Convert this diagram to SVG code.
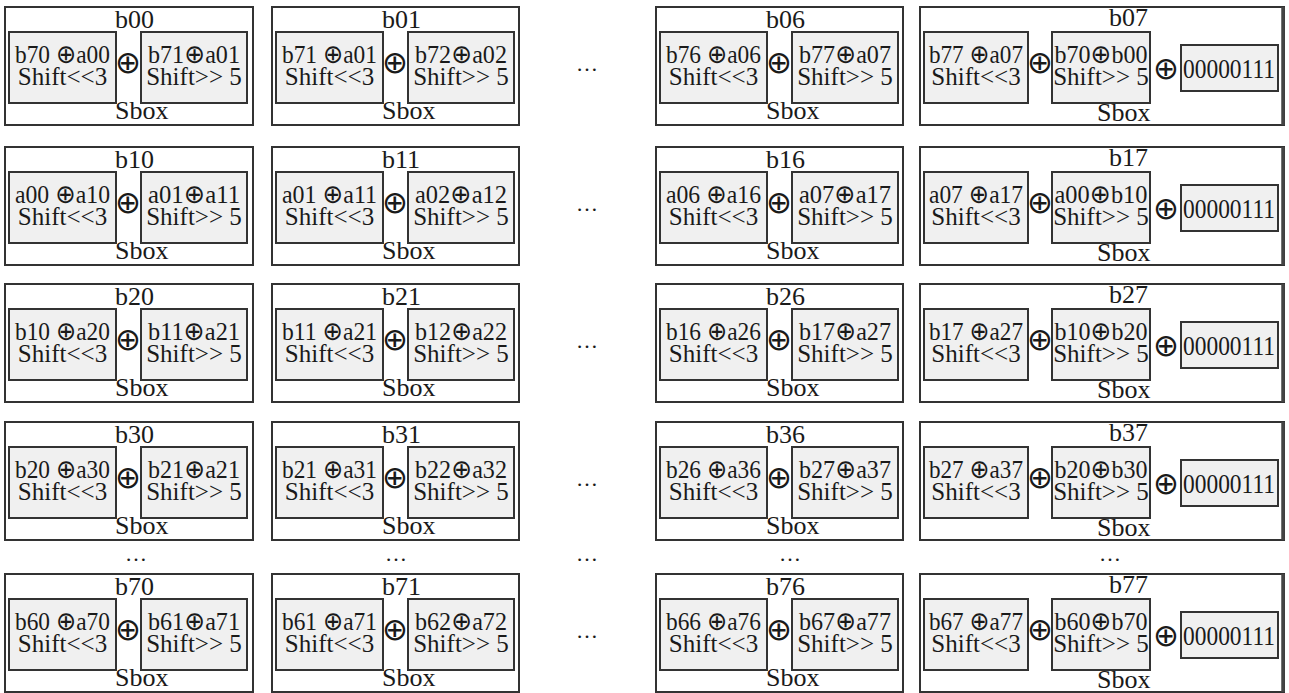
<svg xmlns="http://www.w3.org/2000/svg" width="1289" height="693" viewBox="0 0 1289 693">
<style>
.o{fill:#fff;stroke:#333;stroke-width:2}
.i{fill:#f0f0f0;stroke:#333;stroke-width:2}
.e{fill:none;stroke:#444;stroke-width:3.5}
.t{font-family:"Liberation Serif","Times New Roman",serif;font-size:25px;fill:#1a1a1a}
.h{font-size:26px}
.n{font-size:27px}
.c{text-anchor:middle}
.x{font-family:"DejaVu Sans",sans-serif;font-size:26px}
.p{font-family:"DejaVu Sans",sans-serif;font-size:31px;fill:#1a1a1a;text-anchor:middle}
.d{font-family:"Liberation Serif","Times New Roman",serif;font-size:22px;fill:#1a1a1a;text-anchor:middle}
</style>
<rect width="1289" height="693" fill="#fff"/>

<!-- Row 0 -->
<g id="b00" transform="translate(5,7)">
<rect class="o" width="248" height="118"/>
<text class="t h" x="110" y="21">b00</text>
<rect class="i" x="4" y="25" width="107" height="71"/>
<rect class="i" x="136" y="25" width="106" height="71"/>
<text class="t c" x="57.5" y="56" textLength="95" lengthAdjust="spacingAndGlyphs">b70 <tspan class="x">⊕</tspan>a00</text>
<text class="t c" x="57.5" y="78">Shift&lt;&lt;3</text>
<text class="p" x="123" y="66">⊕</text>
<text class="t c" x="189" y="56" textLength="92" lengthAdjust="spacingAndGlyphs">b71<tspan class="x">⊕</tspan>a01</text>
<text class="t c" x="189" y="78">Shift&gt;&gt; 5</text>
<text class="t h" x="110" y="112">Sbox</text>
</g>
<g id="b01" transform="translate(272,7)">
<rect class="o" width="247" height="118"/>
<text class="t h" x="110" y="21">b01</text>
<rect class="i" x="4" y="25" width="107" height="71"/>
<rect class="i" x="136" y="25" width="106" height="71"/>
<text class="t c" x="57.5" y="56" textLength="95" lengthAdjust="spacingAndGlyphs">b71 <tspan class="x">⊕</tspan>a01</text>
<text class="t c" x="57.5" y="78">Shift&lt;&lt;3</text>
<text class="p" x="123" y="66">⊕</text>
<text class="t c" x="189" y="56" textLength="92" lengthAdjust="spacingAndGlyphs">b72<tspan class="x">⊕</tspan>a02</text>
<text class="t c" x="189" y="78">Shift&gt;&gt; 5</text>
<text class="t h" x="110" y="112">Sbox</text>
</g>
<g id="b06" transform="translate(656,7)">
<rect class="o" width="247" height="118"/>
<text class="t h" x="110" y="21">b06</text>
<rect class="i" x="4" y="25" width="107" height="71"/>
<rect class="i" x="136" y="25" width="106" height="71"/>
<text class="t c" x="57.5" y="56" textLength="95" lengthAdjust="spacingAndGlyphs">b76 <tspan class="x">⊕</tspan>a06</text>
<text class="t c" x="57.5" y="78">Shift&lt;&lt;3</text>
<text class="p" x="123" y="66">⊕</text>
<text class="t c" x="189" y="56" textLength="92" lengthAdjust="spacingAndGlyphs">b77<tspan class="x">⊕</tspan>a07</text>
<text class="t c" x="189" y="78">Shift&gt;&gt; 5</text>
<text class="t h" x="110" y="112">Sbox</text>
</g>
<g id="b07" transform="translate(920,7)">
<rect class="o" width="364" height="118"/>
<path class="e" d="M363,0V118"/>
<text class="t h" x="189" y="19">b07</text>
<rect class="i" x="4" y="25" width="104" height="71"/>
<rect class="i" x="132" y="25" width="98" height="71"/>
<rect class="i" x="261" y="38" width="97" height="46"/>
<text class="t c" x="56" y="56" textLength="94" lengthAdjust="spacingAndGlyphs">b77 <tspan class="x">⊕</tspan>a07</text>
<text class="t c" x="56" y="78">Shift&lt;&lt;3</text>
<text class="p" x="120" y="66">⊕</text>
<text class="t c" x="181" y="56" textLength="93" lengthAdjust="spacingAndGlyphs">b70<tspan class="x">⊕</tspan>b00</text>
<text class="t c" x="181" y="78">Shift&gt;&gt; 5</text>
<text class="p" x="246" y="72">⊕</text>
<text class="t n" x="263" y="71" textLength="92" lengthAdjust="spacingAndGlyphs">00000111</text>
<text class="t h" x="177" y="114">Sbox</text>
</g>

<!-- Row 1 -->
<g id="b10" transform="translate(5,147)">
<rect class="o" width="248" height="118"/>
<text class="t h" x="110" y="21">b10</text>
<rect class="i" x="4" y="25" width="107" height="71"/>
<rect class="i" x="136" y="25" width="106" height="71"/>
<text class="t c" x="57.5" y="56" textLength="95" lengthAdjust="spacingAndGlyphs">a00 <tspan class="x">⊕</tspan>a10</text>
<text class="t c" x="57.5" y="78">Shift&lt;&lt;3</text>
<text class="p" x="123" y="66">⊕</text>
<text class="t c" x="189" y="56" textLength="92" lengthAdjust="spacingAndGlyphs">a01<tspan class="x">⊕</tspan>a11</text>
<text class="t c" x="189" y="78">Shift&gt;&gt; 5</text>
<text class="t h" x="110" y="112">Sbox</text>
</g>
<g id="b11" transform="translate(272,147)">
<rect class="o" width="247" height="118"/>
<text class="t h" x="110" y="21">b11</text>
<rect class="i" x="4" y="25" width="107" height="71"/>
<rect class="i" x="136" y="25" width="106" height="71"/>
<text class="t c" x="57.5" y="56" textLength="95" lengthAdjust="spacingAndGlyphs">a01 <tspan class="x">⊕</tspan>a11</text>
<text class="t c" x="57.5" y="78">Shift&lt;&lt;3</text>
<text class="p" x="123" y="66">⊕</text>
<text class="t c" x="189" y="56" textLength="92" lengthAdjust="spacingAndGlyphs">a02<tspan class="x">⊕</tspan>a12</text>
<text class="t c" x="189" y="78">Shift&gt;&gt; 5</text>
<text class="t h" x="110" y="112">Sbox</text>
</g>
<g id="b16" transform="translate(656,147)">
<rect class="o" width="247" height="118"/>
<text class="t h" x="110" y="21">b16</text>
<rect class="i" x="4" y="25" width="107" height="71"/>
<rect class="i" x="136" y="25" width="106" height="71"/>
<text class="t c" x="57.5" y="56" textLength="95" lengthAdjust="spacingAndGlyphs">a06 <tspan class="x">⊕</tspan>a16</text>
<text class="t c" x="57.5" y="78">Shift&lt;&lt;3</text>
<text class="p" x="123" y="66">⊕</text>
<text class="t c" x="189" y="56" textLength="92" lengthAdjust="spacingAndGlyphs">a07<tspan class="x">⊕</tspan>a17</text>
<text class="t c" x="189" y="78">Shift&gt;&gt; 5</text>
<text class="t h" x="110" y="112">Sbox</text>
</g>
<g id="b17" transform="translate(920,147)">
<rect class="o" width="364" height="118"/>
<path class="e" d="M363,0V118"/>
<text class="t h" x="189" y="19">b17</text>
<rect class="i" x="4" y="25" width="104" height="71"/>
<rect class="i" x="132" y="25" width="98" height="71"/>
<rect class="i" x="261" y="38" width="97" height="46"/>
<text class="t c" x="56" y="56" textLength="94" lengthAdjust="spacingAndGlyphs">a07 <tspan class="x">⊕</tspan>a17</text>
<text class="t c" x="56" y="78">Shift&lt;&lt;3</text>
<text class="p" x="120" y="66">⊕</text>
<text class="t c" x="181" y="56" textLength="93" lengthAdjust="spacingAndGlyphs">a00<tspan class="x">⊕</tspan>b10</text>
<text class="t c" x="181" y="78">Shift&gt;&gt; 5</text>
<text class="p" x="246" y="72">⊕</text>
<text class="t n" x="263" y="71" textLength="92" lengthAdjust="spacingAndGlyphs">00000111</text>
<text class="t h" x="177" y="114">Sbox</text>
</g>

<!-- Row 2 -->
<g id="b20" transform="translate(5,284)">
<rect class="o" width="248" height="118"/>
<text class="t h" x="110" y="21">b20</text>
<rect class="i" x="4" y="25" width="107" height="71"/>
<rect class="i" x="136" y="25" width="106" height="71"/>
<text class="t c" x="57.5" y="56" textLength="95" lengthAdjust="spacingAndGlyphs">b10 <tspan class="x">⊕</tspan>a20</text>
<text class="t c" x="57.5" y="78">Shift&lt;&lt;3</text>
<text class="p" x="123" y="66">⊕</text>
<text class="t c" x="189" y="56" textLength="92" lengthAdjust="spacingAndGlyphs">b11<tspan class="x">⊕</tspan>a21</text>
<text class="t c" x="189" y="78">Shift&gt;&gt; 5</text>
<text class="t h" x="110" y="112">Sbox</text>
</g>
<g id="b21" transform="translate(272,284)">
<rect class="o" width="247" height="118"/>
<text class="t h" x="110" y="21">b21</text>
<rect class="i" x="4" y="25" width="107" height="71"/>
<rect class="i" x="136" y="25" width="106" height="71"/>
<text class="t c" x="57.5" y="56" textLength="95" lengthAdjust="spacingAndGlyphs">b11 <tspan class="x">⊕</tspan>a21</text>
<text class="t c" x="57.5" y="78">Shift&lt;&lt;3</text>
<text class="p" x="123" y="66">⊕</text>
<text class="t c" x="189" y="56" textLength="92" lengthAdjust="spacingAndGlyphs">b12<tspan class="x">⊕</tspan>a22</text>
<text class="t c" x="189" y="78">Shift&gt;&gt; 5</text>
<text class="t h" x="110" y="112">Sbox</text>
</g>
<g id="b26" transform="translate(656,284)">
<rect class="o" width="247" height="118"/>
<text class="t h" x="110" y="21">b26</text>
<rect class="i" x="4" y="25" width="107" height="71"/>
<rect class="i" x="136" y="25" width="106" height="71"/>
<text class="t c" x="57.5" y="56" textLength="95" lengthAdjust="spacingAndGlyphs">b16 <tspan class="x">⊕</tspan>a26</text>
<text class="t c" x="57.5" y="78">Shift&lt;&lt;3</text>
<text class="p" x="123" y="66">⊕</text>
<text class="t c" x="189" y="56" textLength="92" lengthAdjust="spacingAndGlyphs">b17<tspan class="x">⊕</tspan>a27</text>
<text class="t c" x="189" y="78">Shift&gt;&gt; 5</text>
<text class="t h" x="110" y="112">Sbox</text>
</g>
<g id="b27" transform="translate(920,284)">
<rect class="o" width="364" height="118"/>
<path class="e" d="M363,0V118"/>
<text class="t h" x="189" y="19">b27</text>
<rect class="i" x="4" y="25" width="104" height="71"/>
<rect class="i" x="132" y="25" width="98" height="71"/>
<rect class="i" x="261" y="38" width="97" height="46"/>
<text class="t c" x="56" y="56" textLength="94" lengthAdjust="spacingAndGlyphs">b17 <tspan class="x">⊕</tspan>a27</text>
<text class="t c" x="56" y="78">Shift&lt;&lt;3</text>
<text class="p" x="120" y="66">⊕</text>
<text class="t c" x="181" y="56" textLength="93" lengthAdjust="spacingAndGlyphs">b10<tspan class="x">⊕</tspan>b20</text>
<text class="t c" x="181" y="78">Shift&gt;&gt; 5</text>
<text class="p" x="246" y="72">⊕</text>
<text class="t n" x="263" y="71" textLength="92" lengthAdjust="spacingAndGlyphs">00000111</text>
<text class="t h" x="177" y="114">Sbox</text>
</g>

<!-- Row 3 -->
<g id="b30" transform="translate(5,422)">
<rect class="o" width="248" height="118"/>
<text class="t h" x="110" y="21">b30</text>
<rect class="i" x="4" y="25" width="107" height="71"/>
<rect class="i" x="136" y="25" width="106" height="71"/>
<text class="t c" x="57.5" y="56" textLength="95" lengthAdjust="spacingAndGlyphs">b20 <tspan class="x">⊕</tspan>a30</text>
<text class="t c" x="57.5" y="78">Shift&lt;&lt;3</text>
<text class="p" x="123" y="66">⊕</text>
<text class="t c" x="189" y="56" textLength="92" lengthAdjust="spacingAndGlyphs">b21<tspan class="x">⊕</tspan>a21</text>
<text class="t c" x="189" y="78">Shift&gt;&gt; 5</text>
<text class="t h" x="110" y="112">Sbox</text>
</g>
<g id="b31" transform="translate(272,422)">
<rect class="o" width="247" height="118"/>
<text class="t h" x="110" y="21">b31</text>
<rect class="i" x="4" y="25" width="107" height="71"/>
<rect class="i" x="136" y="25" width="106" height="71"/>
<text class="t c" x="57.5" y="56" textLength="95" lengthAdjust="spacingAndGlyphs">b21 <tspan class="x">⊕</tspan>a31</text>
<text class="t c" x="57.5" y="78">Shift&lt;&lt;3</text>
<text class="p" x="123" y="66">⊕</text>
<text class="t c" x="189" y="56" textLength="92" lengthAdjust="spacingAndGlyphs">b22<tspan class="x">⊕</tspan>a32</text>
<text class="t c" x="189" y="78">Shift&gt;&gt; 5</text>
<text class="t h" x="110" y="112">Sbox</text>
</g>
<g id="b36" transform="translate(656,422)">
<rect class="o" width="247" height="118"/>
<text class="t h" x="110" y="21">b36</text>
<rect class="i" x="4" y="25" width="107" height="71"/>
<rect class="i" x="136" y="25" width="106" height="71"/>
<text class="t c" x="57.5" y="56" textLength="95" lengthAdjust="spacingAndGlyphs">b26 <tspan class="x">⊕</tspan>a36</text>
<text class="t c" x="57.5" y="78">Shift&lt;&lt;3</text>
<text class="p" x="123" y="66">⊕</text>
<text class="t c" x="189" y="56" textLength="92" lengthAdjust="spacingAndGlyphs">b27<tspan class="x">⊕</tspan>a37</text>
<text class="t c" x="189" y="78">Shift&gt;&gt; 5</text>
<text class="t h" x="110" y="112">Sbox</text>
</g>
<g id="b37" transform="translate(920,422)">
<rect class="o" width="364" height="118"/>
<path class="e" d="M363,0V118"/>
<text class="t h" x="189" y="19">b37</text>
<rect class="i" x="4" y="25" width="104" height="71"/>
<rect class="i" x="132" y="25" width="98" height="71"/>
<rect class="i" x="261" y="38" width="97" height="46"/>
<text class="t c" x="56" y="56" textLength="94" lengthAdjust="spacingAndGlyphs">b27 <tspan class="x">⊕</tspan>a37</text>
<text class="t c" x="56" y="78">Shift&lt;&lt;3</text>
<text class="p" x="120" y="66">⊕</text>
<text class="t c" x="181" y="56" textLength="93" lengthAdjust="spacingAndGlyphs">b20<tspan class="x">⊕</tspan>b30</text>
<text class="t c" x="181" y="78">Shift&gt;&gt; 5</text>
<text class="p" x="246" y="72">⊕</text>
<text class="t n" x="263" y="71" textLength="92" lengthAdjust="spacingAndGlyphs">00000111</text>
<text class="t h" x="177" y="114">Sbox</text>
</g>

<!-- Row 7 -->
<g id="b70" transform="translate(5,574)">
<rect class="o" width="248" height="118"/>
<text class="t h" x="110" y="21">b70</text>
<rect class="i" x="4" y="25" width="107" height="71"/>
<rect class="i" x="136" y="25" width="106" height="71"/>
<text class="t c" x="57.5" y="56" textLength="95" lengthAdjust="spacingAndGlyphs">b60 <tspan class="x">⊕</tspan>a70</text>
<text class="t c" x="57.5" y="78">Shift&lt;&lt;3</text>
<text class="p" x="123" y="66">⊕</text>
<text class="t c" x="189" y="56" textLength="92" lengthAdjust="spacingAndGlyphs">b61<tspan class="x">⊕</tspan>a71</text>
<text class="t c" x="189" y="78">Shift&gt;&gt; 5</text>
<text class="t h" x="110" y="112">Sbox</text>
</g>
<g id="b71" transform="translate(272,574)">
<rect class="o" width="247" height="118"/>
<text class="t h" x="110" y="21">b71</text>
<rect class="i" x="4" y="25" width="107" height="71"/>
<rect class="i" x="136" y="25" width="106" height="71"/>
<text class="t c" x="57.5" y="56" textLength="95" lengthAdjust="spacingAndGlyphs">b61 <tspan class="x">⊕</tspan>a71</text>
<text class="t c" x="57.5" y="78">Shift&lt;&lt;3</text>
<text class="p" x="123" y="66">⊕</text>
<text class="t c" x="189" y="56" textLength="92" lengthAdjust="spacingAndGlyphs">b62<tspan class="x">⊕</tspan>a72</text>
<text class="t c" x="189" y="78">Shift&gt;&gt; 5</text>
<text class="t h" x="110" y="112">Sbox</text>
</g>
<g id="b76" transform="translate(656,574)">
<rect class="o" width="247" height="118"/>
<text class="t h" x="110" y="21">b76</text>
<rect class="i" x="4" y="25" width="107" height="71"/>
<rect class="i" x="136" y="25" width="106" height="71"/>
<text class="t c" x="57.5" y="56" textLength="95" lengthAdjust="spacingAndGlyphs">b66 <tspan class="x">⊕</tspan>a76</text>
<text class="t c" x="57.5" y="78">Shift&lt;&lt;3</text>
<text class="p" x="123" y="66">⊕</text>
<text class="t c" x="189" y="56" textLength="92" lengthAdjust="spacingAndGlyphs">b67<tspan class="x">⊕</tspan>a77</text>
<text class="t c" x="189" y="78">Shift&gt;&gt; 5</text>
<text class="t h" x="110" y="112">Sbox</text>
</g>
<g id="b77" transform="translate(920,574)">
<rect class="o" width="364" height="118"/>
<path class="e" d="M363,0V118"/>
<text class="t h" x="189" y="19">b77</text>
<rect class="i" x="4" y="25" width="104" height="71"/>
<rect class="i" x="132" y="25" width="98" height="71"/>
<rect class="i" x="261" y="38" width="97" height="46"/>
<text class="t c" x="56" y="56" textLength="94" lengthAdjust="spacingAndGlyphs">b67 <tspan class="x">⊕</tspan>a77</text>
<text class="t c" x="56" y="78">Shift&lt;&lt;3</text>
<text class="p" x="120" y="66">⊕</text>
<text class="t c" x="181" y="56" textLength="93" lengthAdjust="spacingAndGlyphs">b60<tspan class="x">⊕</tspan>b70</text>
<text class="t c" x="181" y="78">Shift&gt;&gt; 5</text>
<text class="p" x="246" y="72">⊕</text>
<text class="t n" x="263" y="71" textLength="92" lengthAdjust="spacingAndGlyphs">00000111</text>
<text class="t h" x="177" y="114">Sbox</text>
</g>

<!-- Ellipses -->
<g id="ellipses">
<text class="d" x="587" y="71">…</text>
<text class="d" x="587" y="211">…</text>
<text class="d" x="587" y="348">…</text>
<text class="d" x="587" y="486">…</text>
<text class="d" x="587" y="638">…</text>
<text class="d" x="136" y="561">…</text>
<text class="d" x="396" y="561">…</text>
<text class="d" x="587" y="561">…</text>
<text class="d" x="790" y="561">…</text>
<text class="d" x="1110" y="561">…</text>
</g>
</svg>
